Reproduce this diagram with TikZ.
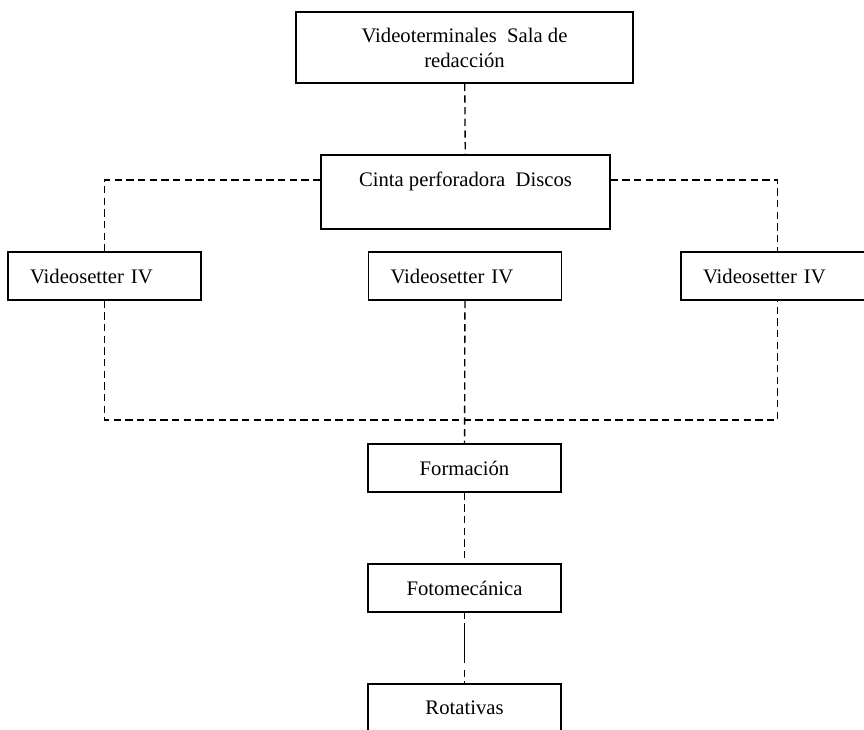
\documentclass[tikz,border=0pt]{standalone}
\usepackage{fontspec}
\setmainfont{Liberation Serif}
\usepackage{tikz}
\usetikzlibrary{positioning}
\pgfdeclarelayer{background}
\pgfdeclarelayer{foreground}
\pgfsetlayers{background,main,foreground}

\begin{document}
\begin{tikzpicture}[x=0.75pt, y=-0.75pt,
	boxnode/.style={rectangle, draw=black, line width=1.1pt, fill=white, inner sep=0pt, align=center, font=\fontsize{15.5}{18.75}\selectfont},
	setternode/.style={boxnode, minimum width=144.75pt, minimum height=36pt, text width=111.75pt, align=left},
	stagenode/.style={boxnode, minimum width=144.75pt, minimum height=36pt},
	dashline/.style={line width=1pt, dash pattern=on 5.5pt off 3.25pt},
	]
	\clip (0,0) rectangle (864,729);
	%Nodes
	\node[boxnode, minimum width=252.75pt, minimum height=53.25pt] (redaccion) at (464.5,47.5) {Videoterminales\ \ Sala de\\redacción};
	\node[boxnode, minimum width=216.75pt, minimum height=55.5pt] (cinta) at (465.5,192) {Cinta perforadora\ \ Discos\\~};
	\node[setternode] (vs1) at (104.5,276) {Videosetter IV};
	\node[setternode] (vs2) at (465,276) {Videosetter IV};
	\node[setternode] (vs3) at (777.5,276) {Videosetter IV};
	\node[stagenode] (formacion) at (464.5,468) {Formación};
	\node[stagenode] (fotomec) at (464.5,588) {Fotomecánica};
	\node[stagenode] (rotativas) at (464.5,708) {Rotativas};
	\coordinate (bus) at (465,420);

	\begin{pgfonlayer}{background}
	%Lines
	\draw[dashline] (redaccion) -- (cinta);
	\draw[dashline] ([yshift=9pt]cinta.west) -| (vs1.north);
	\draw[dashline] ([yshift=9pt]cinta.east) -| (vs3.north);
	\draw[dashline] (vs1.south) |- (bus) -| (vs3.south);
	\draw[dashline] (vs2) -- (formacion);
	\draw[dashline] (formacion) -- (fotomec);
	\draw[line width=1pt, dash pattern=on 5pt off 3pt on 30pt off 5pt] (fotomec) -- (rotativas);
	\end{pgfonlayer}
\end{tikzpicture}
\end{document}
